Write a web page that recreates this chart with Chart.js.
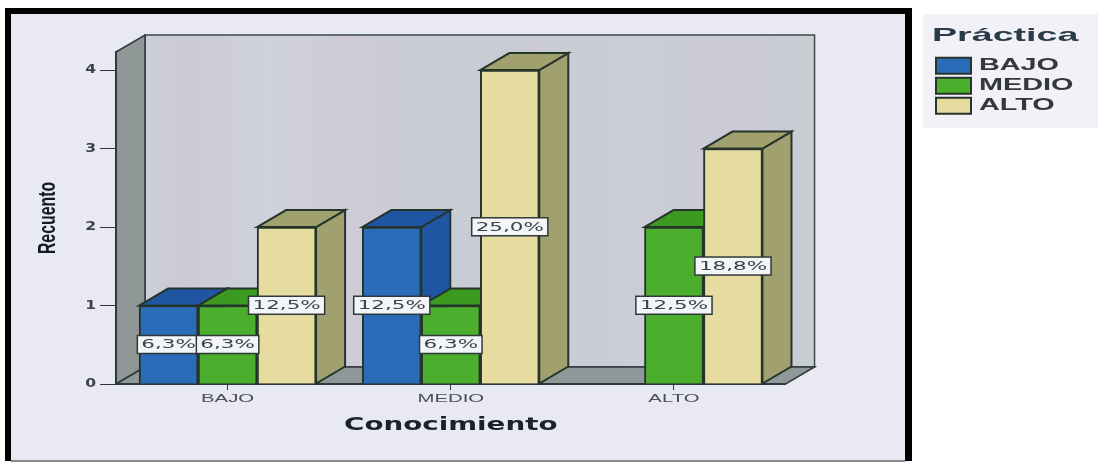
<!DOCTYPE html>
<html>
<head>
<meta charset="utf-8">
<title>Conocimiento / Práctica</title>
<style>
    html, body { margin: 0; background: #fff; }
    canvas { display: block; filter: blur(0.45px); }
</style>
<script src="https://cdn.jsdelivr.net/npm/chart.js@4/dist/chart.umd.min.js"></script>
</head>
<body>
<canvas id="myBarChart" width="1098" height="462"></canvas>
<script>
var categories = ["BAJO", "MEDIO", "ALTO"];
var seriesNames = ["BAJO", "MEDIO", "ALTO"];

// counts (no blue bar for ALTO)
var bajoValues = [1, 2, null];
var medioValues = [1, 1, 2];
var altoValues = [2, 4, 3];

// labels printed on the bars
var bajoPercents = ["6,3%", "12,5%", null];
var medioPercents = ["6,3%", "6,3%", "12,5%"];
var altoPercents = ["12,5%", "25,0%", "18,8%"];

var yTicks = [0, 1, 2, 3, 4];

var percents = [bajoPercents, medioPercents, altoPercents];
var frontColors = ["#2a6cb8", "#4bae2c", "#e6dca0"];
var shadeColors = ["#1f55a3", "#3d9a20", "#a1a06f"];
var edge = "#26352c";
var depthX = 29, depthY = -17;

function poly(ctx, pts, fill, stroke, width) {
    ctx.beginPath();
    pts.forEach(function(p, i) {
        if (i == 0) ctx.moveTo(p[0], p[1]);
        else ctx.lineTo(p[0], p[1]);
    });
    ctx.closePath();
    ctx.fillStyle = fill;
    ctx.fill();
    ctx.strokeStyle = stroke;
    ctx.lineWidth = width;
    ctx.stroke();
}

// the scan is stretched sideways, so squeeze or widen the glyphs of one draw call
function stretched(owner, method, k) {
    var orig = owner[method];
    owner[method] = function() {
        var c = this.ctx, prev = c.fillText;
        c.fillText = function(t, x, y) {
            c.save();
            c.translate(x, y);
            c.scale(k, 1);
            prev.call(c, t, 0, 0);
            c.restore();
        };
        orig.apply(this, arguments);
        c.fillText = prev;
    };
}

var box3d = {
    id: "box3d",
    afterLayout: function(chart) {
        // the legend sits apart from the plot, on its own patch
        chart.legend.left = 932;
        chart.legend.right = 1098;
        chart.legend.top = 26;
        chart.legend.bottom = 130;
        if (!chart.$stretched) {
            chart.$stretched = true;
            stretched(chart.scales.x, "drawLabels", 1.85);
            stretched(chart.scales.x, "drawTitle", 1.54);
            stretched(chart.scales.y, "drawLabels", 1.3);
            stretched(chart.scales.y, "drawTitle", 0.66);
            stretched(chart.legend, "drawTitle", 1.1);
            stretched(chart.legend, "draw", 1.8);
        }
    },
    beforeDraw: function(chart) {
        var ctx = chart.ctx, a = chart.chartArea;
        ctx.save();
        // page frame
        ctx.fillStyle = "#e9e9f3";
        ctx.fillRect(8, 11, 901, 451);
        ctx.fillStyle = "#000";
        ctx.fillRect(5, 8, 907, 6);
        ctx.fillRect(5, 8, 6, 453);
        ctx.fillRect(905, 8, 7, 453);
        ctx.fillStyle = "#8a8a8a";
        ctx.fillRect(11, 460, 894, 2);
        // legend patch
        ctx.fillStyle = "#f1f1f7";
        ctx.fillRect(923, 14, 175, 114);

        // walls and floor
        var g = ctx.createLinearGradient(a.left, 0, a.right + depthX, 0);
        g.addColorStop(0, "#cdd1d9");
        g.addColorStop(0.1, "#cccad6");
        g.addColorStop(0.22, "#cfd2da");
        g.addColorStop(0.33, "#cfcbd7");
        g.addColorStop(0.45, "#c8cdd4");
        g.addColorStop(0.6, "#cacbd5");
        g.addColorStop(0.75, "#cbced6");
        g.addColorStop(0.9, "#cac9d4");
        g.addColorStop(1, "#c8ced4");
        var bx = a.left + depthX, by = a.bottom + depthY, ty = a.top + depthY, rx = a.right + depthX;
        poly(ctx, [[bx, ty], [rx, ty], [rx, by], [bx, by]], g, "#3b4a48", 1.5);
        poly(ctx, [[a.left, a.top], [bx, ty], [bx, by], [a.left, a.bottom]], "#8f9797", "#2e3a38", 1.5);
        poly(ctx, [[a.left, a.bottom], [bx, by], [rx, by], [a.right, a.bottom]], "#8f9898", "#2e3a38", 1.5);
        ctx.restore();
    },
    beforeDatasetsDraw: function(chart) {
        var ctx = chart.ctx;
        ctx.save();
        chart.data.datasets.forEach(function(ds, d) {
            chart.getDatasetMeta(d).data.forEach(function(bar, i) {
                if (ds.data[i] === null) return;
                var l = bar.x - bar.width / 2, r = bar.x + bar.width / 2;
                poly(ctx, [[r, bar.y], [r + depthX, bar.y + depthY], [r + depthX, bar.base + depthY], [r, bar.base]], shadeColors[d], edge, 2);
                poly(ctx, [[l, bar.y], [l + depthX, bar.y + depthY], [r + depthX, bar.y + depthY], [r, bar.y]], shadeColors[d], edge, 2);
            });
        });
        ctx.restore();
    },
    afterDatasetsDraw: function(chart) {
        var ctx = chart.ctx;
        ctx.save();
        ctx.textAlign = "center";
        ctx.textBaseline = "middle";
        chart.data.datasets.forEach(function(ds, d) {
            chart.getDatasetMeta(d).data.forEach(function(bar, i) {
                var text = percents[d][i];
                if (!text) return;
                var cy = (bar.y + bar.base) / 2;
                ctx.font = "13px 'DejaVu Sans'";
                var w = ctx.measureText(text).width * 1.65 + 8;
                ctx.fillStyle = "#f4f5f8";
                ctx.fillRect(bar.x - w / 2, cy - 9, w, 18);
                ctx.strokeStyle = "#2f3a38";
                ctx.lineWidth = 1.5;
                ctx.strokeRect(bar.x - w / 2, cy - 9, w, 18);
                ctx.save();
                ctx.translate(bar.x, cy + 0.5);
                ctx.scale(1.65, 1);
                ctx.fillStyle = "#3a4346";
                ctx.fillText(text, 0, 0);
                ctx.restore();
            });
        });
        ctx.restore();
    }
};

var ctx = document.getElementById("myBarChart").getContext("2d");
var chart = new Chart(ctx, {
    type: "bar",
    data: {
        labels: categories,
        datasets: [bajoValues, medioValues, altoValues].map(function(values, i) {
            return {
                label: seriesNames[i],
                data: values,
                backgroundColor: frontColors[i],
                borderColor: edge,
                borderWidth: 2,
                barThickness: 59
            };
        })
    },
    plugins: [box3d],
    options: {
        responsive: false,
        animation: false,
        layout: { padding: { top: 52, right: 203 } },
        plugins: {
            tooltip: { enabled: false },
            legend: {
                position: "right",
                align: "start",
                title: {
                    display: true,
                    text: "Práctica",
                    position: "start",
                    color: "#2a3a48",
                    padding: { top: 0, bottom: 5 },
                    font: { family: "'Liberation Sans'", size: 19, weight: "bold" }
                },
                labels: {
                    color: "#33383c",
                    boxWidth: 35,
                    boxHeight: 16,
                    padding: 4,
                    font: { family: "'Liberation Sans'", size: 16, weight: "bold" }
                }
            }
        },
        scales: {
            x: {
                afterFit: function(scale) { scale.height = 78; },
                grid: { display: true, drawOnChartArea: false, offset: false, tickLength: 6, color: "#333" },
                border: { color: "#2e3a38", width: 2 },
                ticks: {
                    color: "#4a4f52",
                    padding: 2,
                    maxRotation: 0,
                    font: { family: "'Liberation Sans'", size: 11 }
                },
                title: {
                    display: true,
                    text: "Conocimiento",
                    color: "#1c2228",
                    padding: { top: 0, bottom: 26 },
                    font: { family: "'DejaVu Sans'", size: 18, weight: "bold" }
                }
            },
            y: {
                min: 0,
                max: 4.23,
                afterFit: function(scale) { scale.width = 116; },
                afterBuildTicks: function(scale) {
                    scale.ticks = yTicks.map(function(v) { return { value: v }; });
                },
                grid: { drawOnChartArea: false, tickLength: 16, color: "#333" },
                border: { color: "#2e3a38", width: 2 },
                ticks: {
                    color: "#3c4144",
                    padding: 4,
                    font: { family: "'DejaVu Sans'", size: 12, weight: "bold" }
                },
                title: {
                    display: true,
                    text: "Recuento",
                    color: "#141a20",
                    padding: { top: 34, bottom: 0 },
                    font: { family: "'Liberation Sans'", size: 24, weight: "bold" }
                }
            }
        }
    }
});
</script>
</body>
</html>
